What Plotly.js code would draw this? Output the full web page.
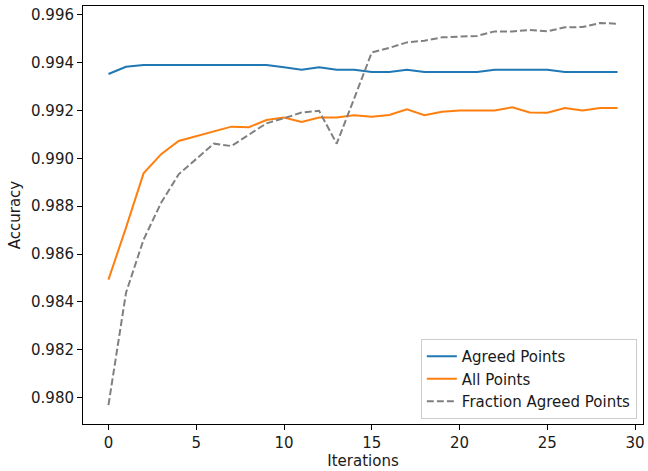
<!DOCTYPE html>
<html>
<head>
<meta charset="utf-8">
<script src="https://cdn.plot.ly/plotly-3.0.1.min.js"></script>
<style>html,body{margin:0;padding:0;background:#fff;}#chart{width:648px;height:471px;}</style>
</head>
<body>
<div id="chart"></div>
<script>
const iterations = [0,1,2,3,4,5,6,7,8,9,10,11,12,13,14,15,16,17,18,19,20,21,22,23,24,25,26,27,28,29];
const agreedPoints = [0.99352,0.99382,0.9939,0.9939,0.9939,0.9939,0.9939,0.9939,0.9939,0.9939,0.9938,0.9937,0.9938,0.9937,0.9937,0.9936,0.9936,0.9937,0.9936,0.9936,0.9936,0.9936,0.9937,0.9937,0.9937,0.9937,0.9936,0.9936,0.9936,0.9936];
const allPoints = [0.98493,0.9871,0.98937,0.99017,0.99072,0.99093,0.99114,0.99132,0.9913,0.9916,0.9917,0.99152,0.9917,0.9917,0.9918,0.99173,0.99181,0.99204,0.9918,0.99194,0.9920,0.9920,0.9920,0.99213,0.99191,0.9919,0.9921,0.9920,0.9921,0.9921];
const fractionAgreed = [0.97969,0.98438,0.9866,0.98814,0.98933,0.98996,0.99061,0.99051,0.9910,0.99146,0.99167,0.99191,0.99198,0.99061,0.9925,0.99442,0.99461,0.99484,0.99491,0.99505,0.99508,0.99511,0.9953,0.9953,0.99536,0.9953,0.99547,0.99548,0.99565,0.99562];
const seriesNames = ["Agreed Points","All Points","Fraction Agreed Points"];
const xTicks = [0,5,10,15,20,25,30];
const yTicks = [0.980,0.982,0.984,0.986,0.988,0.990,0.992,0.994,0.996];

const font = {family:"DejaVu Sans, sans-serif", size:15, color:"#1a1a1a"};
const traces = [
  {x:iterations, y:agreedPoints, name:seriesNames[0], mode:"lines", line:{color:"#1f77b4", width:2}},
  {x:iterations, y:allPoints, name:seriesNames[1], mode:"lines", line:{color:"#ff7f0e", width:2}},
  {x:iterations, y:fractionAgreed, name:seriesNames[2], mode:"lines", line:{color:"#808080", width:2, dash:"7px,3px"}}
];
const axisCommon = {showgrid:false, zeroline:false, showline:true, mirror:true, linecolor:"#000", linewidth:1,
  ticks:"outside", ticklen:5, tickwidth:1, tickcolor:"#000", tickfont:font};
const layout = {
  width:648, height:471,
  margin:{l:83, r:5, t:6, b:47},
  paper_bgcolor:"#fff", plot_bgcolor:"#fff",
  font:font,
  showlegend:true,
  legend:{x:0.989, xanchor:"right", y:0.012, yanchor:"bottom", bgcolor:"rgba(255,255,255,0.8)", bordercolor:"#cccccc", borderwidth:1, font:font, tracegroupgap:0},
  xaxis:Object.assign({}, axisCommon, {range:[-1.45,30.45], tickvals:xTicks, ticktext:xTicks.map(String),
    title:{text:"Iterations", font:font, standoff:3}}),
  yaxis:Object.assign({}, axisCommon, {range:[0.9789,0.99636], tickvals:yTicks, ticktext:yTicks.map(v=>v.toFixed(3)),
    title:{text:"Accuracy", font:font, standoff:6}})
};
Plotly.newPlot("chart", traces, layout, {displayModeBar:false, staticPlot:true});
</script>
</body>
</html>
